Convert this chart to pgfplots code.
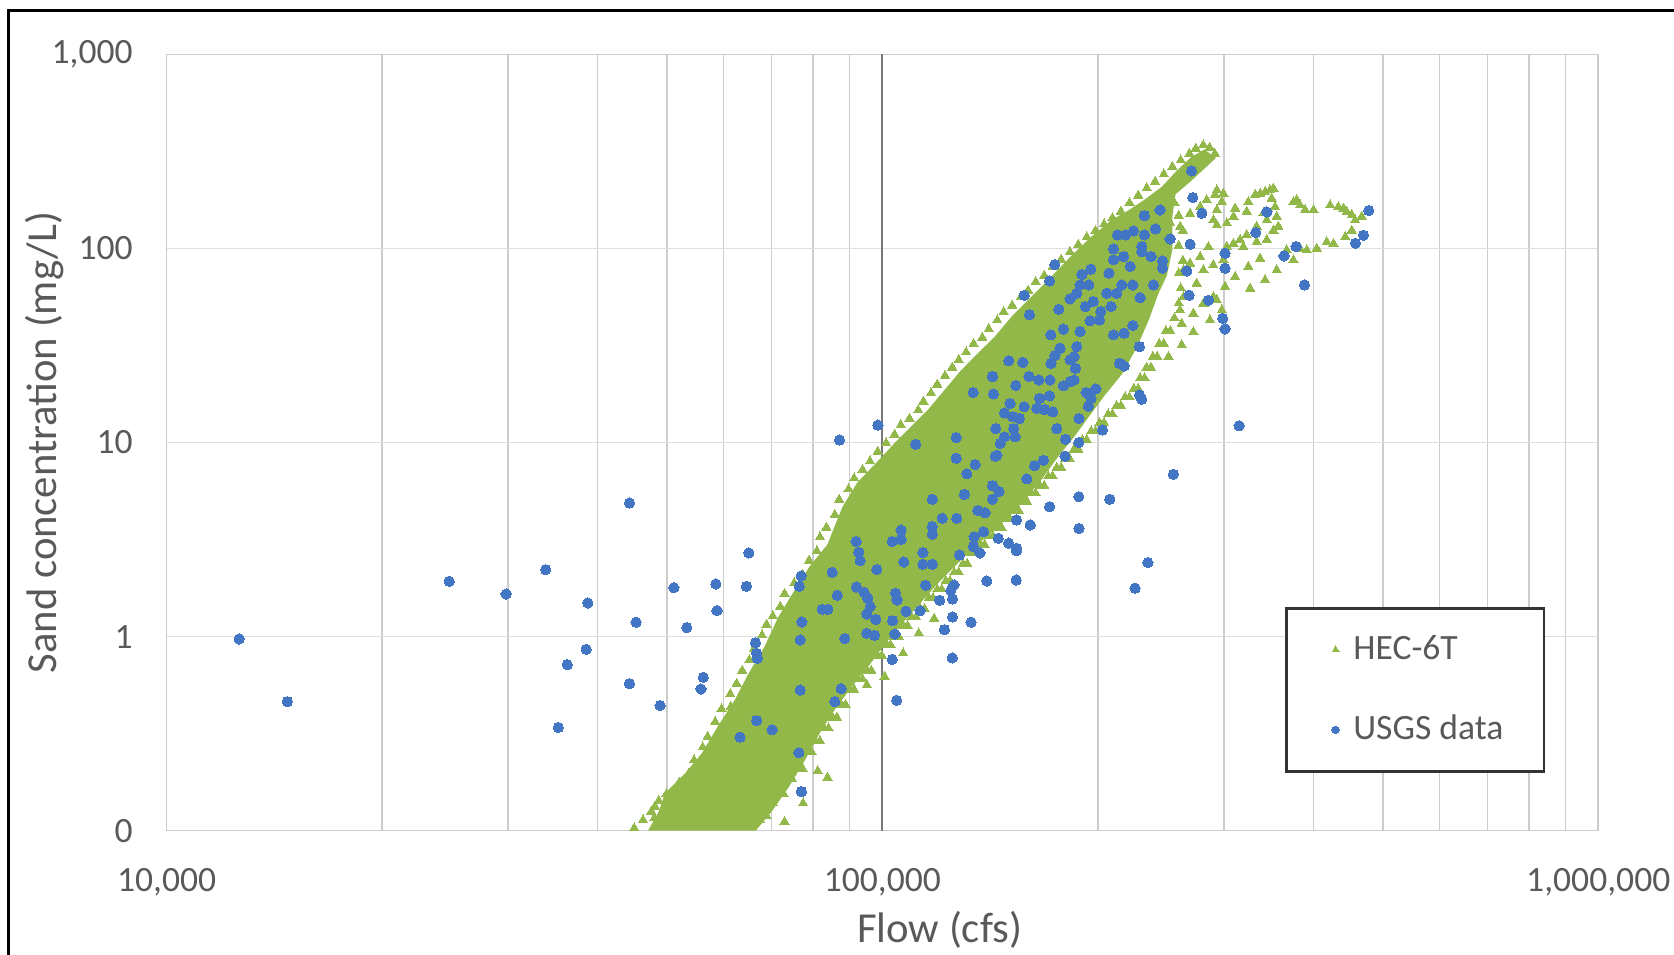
\documentclass[border=0pt]{standalone}
\usepackage{pgfplots}
\pgfplotsset{compat=1.18}
\usepackage{pgfplotstable}
\usepackage{fontspec}
\setmainfont{Carlito}
\definecolor{hecgreen}{RGB}{146,184,74}
\definecolor{usgsblue}{RGB}{66,117,196}
\definecolor{txtgray}{RGB}{89,89,89}
\definecolor{gridx}{RGB}{204,204,204}
\definecolor{gridy}{RGB}{222,222,222}
\definecolor{axisdark}{RGB}{120,120,120}

% dense core of the HEC-6T cloud (outline)
\pgfplotstableread{
x y
47070 0.1
48700 0.1256
49710 0.1558
52900 0.1957
55880 0.2489
58820 0.3418
62150 0.4691
64990 0.6437
68410 0.884
71540 1.26
75060 1.687
79040 2.286
83780 2.983
87910 4.647
92240 6.22
98500 8.01
104000 9.94
109500 12.02
115700 14.72
122200 18.72
128700 23.52
135900 28.8
143700 35.3
151300 44.3
161500 56.4
172300 71.7
183300 91.2
195700 114.6
209000 140.4
220700 157.3
232400 178.5
245600 207.9
258500 254.6
270200 296.4
281600 323.8
292400 292.7
269400 221.4
256700 190.2
254100 145.8
254100 98.4
249700 72.6
242900 58.5
235500 42.7
226800 31.1
216300 22.6
204700 17.6
194300 13.6
185900 10.86
175900 8.43
166500 6.38
158200 5.08
150300 4.15
141200 3.38
133200 2.8
125600 2.26
118900 1.843
112600 1.467
106500 1.168
100900 0.918
96140 0.722
90670 0.553
85530 0.4134
81520 0.3128
77960 0.2307
74040 0.1681
70070 0.1256
66560 0.1
}\heccore

\pgfplotstableread{
x y
45000 0.103
46300 0.1135
47550 0.1256
48700 0.1426
49900 0.154
50900 0.132
52000 0.177
53600 0.196
54550 0.231
56100 0.269
57000 0.305
58400 0.364
59600 0.424
61300 0.506
62570 0.574
63700 0.669
65200 0.759
66100 0.862
67900 1.016
68900 1.154
70300 1.277
72000 1.43
73000 1.664
75300 1.89
77400 2.09
79000 2.47
81000 2.76
81800 3.26
83500 3.65
85800 4.25
87000 5.08
89700 5.76
91300 6.54
93800 7.24
96100 8.01
98500 8.98
101200 9.94
104000 11.0
106100 12.33
109100 13.3
112200 14.7
114100 16.3
116900 18.0
119300 19.95
122300 22.1
125200 24.4
127800 26.7
130900 29.2
134100 32.3
137900 34.8
140800 38.5
144700 42.7
147700 47.2
151800 50.9
156100 56.4
159800 60.8
163700 67.3
168300 72.6
172900 80.4
177700 87.8
182800 95.9
187800 104.8
193000 114.6
198500 123.6
204000 133.4
209600 143.9
215400 155.3
221400 171.9
227700 187.8
234000 205
240400 221
247200 242
254100 264
261100 285
268400 308
274000 328
280700 341
286500 332
291400 308
67500 0.1135
68900 0.119
70300 0.139
72800 0.154
74800 0.184
77400 0.2085
83800 0.188
81200 0.203
79600 0.255
81800 0.29
84100 0.337
86400 0.383
88800 0.446
91300 0.532
93800 0.604
96500 0.669
99800 0.799
102600 0.907
105400 1.0
108400 1.138
111400 1.261
114500 1.394
117700 1.582
121000 1.752
124300 1.94
127800 2.145
131400 2.373
135000 2.695
138900 2.98
142700 3.30
146700 3.65
150800 4.04
155000 4.47
159300 4.95
163700 5.48
168300 5.99
172900 6.71
177700 7.43
182800 8.22
187800 9.21
193000 10.32
198500 11.43
204000 12.64
209600 14.0
215400 15.48
221400 17.13
227700 18.97
232400 21.5
237200 24.4
242100 27.7
247200 32.3
252400 37.6
255800 43.8
259300 52.2
261100 62.4
259300 74.5
262900 86.7
259300 103.5
262900 123.7
259300 147.6
255800 171.9
66560 0.1135
67940 0.119
69320 0.139
71780 0.154
73750 0.184
76320 0.2085
78490 0.255
80650 0.29
82920 0.337
85190 0.383
87560 0.446
90020 0.532
92490 0.604
95150 0.669
98400 0.799
101200 0.907
103900 1.0
106900 1.138
109800 1.261
112900 1.394
116100 1.582
119300 1.752
122600 1.94
126000 2.145
129600 2.373
133100 2.695
137000 2.98
140700 3.30
144600 3.65
148700 4.04
152800 4.47
157100 4.95
161400 5.48
165900 5.99
170500 6.71
175200 7.43
180200 8.22
185200 9.21
190300 10.32
195700 11.43
201100 12.64
206700 14.0
212400 15.48
218300 17.13
224500 18.97
229100 21.5
233900 24.4
238700 27.7
243700 32.3
248900 37.6
106900 0.82
112400 1.04
118100 1.24
100700 0.623
95100 0.564
77500 0.1385
73000 0.111
48100 0.133
48000 0.116
50100 0.133
56570 0.240
61400 0.435
252400 135
260500 129.6
269000 151.4
277900 164
283800 178
293200 200
291500 189
299500 192
298000 174
293200 158
290000 140
293200 132
302800 135
309300 146
311000 161
322800 155
324500 174
331700 189
337000 192
342500 196
347900 200
351800 204
349800 181
353600 164
355500 146
357400 130
351800 124
344300 140
340600 152
333300 130
322800 117.5
315900 111
309300 106
302800 102
333300 108
344300 111
375200 174
379200 178
383300 167
389500 158
400100 158
422100 167
433500 164
440600 161
445300 155
452600 149
457300 140
467300 146
391700 98.1
404400 100
417600 108
426700 106
443200 115
452600 124
383300 100
375200 87.2
355500 77.5
342400 68.8
337000 88.9
324500 80.6
311000 71.5
301100 63.6
290000 56.4
280800 52.1
271900 46.3
261900 41.1
251000 27.7
286800 42.8
298000 48.2
260500 48.2
263400 77.5
277900 90.6
285400 102
269000 83.8
271900 37.2
293200 54.3
326300 62.3
367100 98.1
319300 102
274800 66.1
280800 77.5
289900 82.2
299500 87.3
263400 56.4
261900 31.8
}\hecpts

\pgfplotstableread{
x y
12630 0.972
14750 0.462
24820 1.927
29810 1.658
33860 2.213
38770 1.49
38570 0.86
36290 0.717
35260 0.340
44320 4.88
45280 1.185
44320 0.572
48920 0.441
51130 1.787
53300 1.112
56200 0.617
55780 0.537
58520 1.866
58740 1.36
64580 1.816
65070 2.70
66480 0.93
66700 0.82
66900 0.773
66720 0.369
63280 0.303
76770 0.530
85810 0.462
87580 0.539
70130 0.331
76430 0.252
77090 0.159
104700 0.469
103200 0.763
125200 0.776
77020 2.053
76530 1.816
85080 2.145
86470 1.632
82390 1.382
83900 1.382
77180 1.19
76770 0.961
88610 0.976
92680 2.72
93090 2.46
98220 2.214
91990 1.80
94290 1.69
95410 1.575
96140 1.427
95110 1.308
97900 1.227
95110 1.04
97480 1.015
103300 1.208
104300 1.672
104850 1.544
104100 1.031
107900 1.35
112900 1.36
107100 2.424
113900 2.708
113900 2.358
117400 2.358
114900 1.838
125900 1.845
124600 1.725
125300 1.563
120200 1.538
125300 1.262
122100 1.086
133000 1.185
139900 1.934
153800 1.957
128100 2.634
136900 2.697
153900 2.773
87100 10.31
225400 1.775
234900 2.406
270300 251.2
271400 183.0
279400 152.0
244300 158.1
232300 147.8
240700 126.2
232300 117.5
213000 117.5
218600 117.5
224300 123.2
210300 99.5
230300 102.3
230300 96.4
237300 90.9
246200 86.3
246200 79.1
252300 112.0
269100 105.2
301100 94.5
301100 79.1
266200 76.6
268200 57.4
285400 54.1
298800 43.7
301100 38.5
344400 154.4
332400 120.8
378400 102.3
364000 91.6
388700 64.9
174100 82.6
171200 68.1
195500 78.2
190000 73.4
207200 74.6
210300 87.4
217200 90.9
221900 80.7
216000 64.9
223800 64.9
239200 64.9
229100 55.8
208700 50.2
205800 58.8
212500 58.8
157800 57.4
160500 45.6
176400 48.6
188900 64.9
194200 64.9
186900 58.8
182900 55.0
197100 53.3
192100 50.2
201900 47.3
201000 42.8
195100 42.4
179000 38.4
188900 37.3
171900 35.9
177100 30.6
174200 28.1
172000 25.6
182900 26.7
185300 27.7
186100 24.1
186900 31.2
210300 35.9
217600 36.6
223800 40.1
228600 31.2
214400 25.6
217600 24.8
150100 26.4
157100 25.9
153600 19.7
160300 21.9
165400 21.0
171500 21.0
179000 19.6
182900 20.6
185300 21.0
165800 16.9
171200 17.4
164300 15.0
168400 14.8
173000 14.4
142500 21.9
142900 17.8
133900 18.1
150800 15.9
157800 15.3
148100 14.2
152000 13.6
155400 13.3
144000 11.8
152500 11.8
153300 10.7
148100 10.7
146100 9.9
144500 8.6
143800 8.5
126800 10.6
126800 8.3
134800 7.7
131200 6.9
142500 6.0
145500 5.6
142500 5.1
130200 5.4
117400 5.1
121200 4.07
127000 4.07
135900 4.46
139100 4.35
138400 3.47
134300 3.27
134000 2.91
145200 3.21
150100 3.03
154000 2.85
154000 3.99
160900 3.76
159100 6.5
163100 7.6
167900 8.1
180000 8.5
180300 10.4
188100 10.0
175200 11.8
188200 13.3
192600 18.1
198700 18.9
195700 16.9
194000 15.4
203000 11.6
171200 4.67
188100 5.26
207800 5.1
188200 3.61
255000 6.86
315000 12.2
228600 17.6
230300 16.7
106200 3.54
103200 3.09
106200 3.17
117400 3.69
117400 3.37
91900 3.09
98540 12.3
111300 9.8
477900 156.9
469900 117.0
458000 106.4
}\usgs

\begin{document}
\begin{tikzpicture}
\begin{axis}[
  at={(0pt,0pt)}, anchor=south west,
  scale only axis, width=402.3pt, height=218.1pt,
  xmode=log, ymode=log,
  xmin=1e4, xmax=1e6, ymin=0.1, ymax=1000,
  xtick={1e4,1e5,1e6},
  xticklabels={{10,000},{100,000},{1,000,000}},
  minor xtick={2e4,3e4,4e4,5e4,6e4,7e4,8e4,9e4,2e5,3e5,4e5,5e5,6e5,7e5,8e5,9e5},
  ytick={0.1,1,10,100,1000},
  yticklabels={0,1,10,100,{1,000}},
  minor ytick={},
  major tick length=0pt, minor tick length=0pt,
  xmajorgrids=true, xminorgrids=true, ymajorgrids=true,
  major x grid style={draw=gridx, line width=0.45pt},
  minor x grid style={draw=gridx, line width=0.45pt},
  major y grid style={draw=gridy, line width=0.45pt},
  axis line style={draw=gridx, line width=0.45pt},
  tick label style={font=\fontsize{10}{12}\selectfont, text=txtgray},
  yticklabel style={anchor=east, xshift=-6pt},
  xticklabel style={anchor=north, yshift=-7pt},
  xlabel={Flow (cfs)},
  ylabel={Sand concentration (mg/L)},
  label style={font=\fontsize{12}{14}\selectfont, text=txtgray},
  xlabel style={at={(axis description cs:0.54,-0.128)}, anchor=center},
  ylabel style={at={(axis description cs:-0.085,0.5)}, anchor=center},
  legend cell align=left,
  legend style={at={(axis description cs:0.7815,0.2875)}, anchor=north west,
     draw=black!80, line width=0.6pt, fill=white,
     inner xsep=9.5pt, inner ysep=5.5pt, row sep=10.1pt,
     font=\fontsize{10}{12}\selectfont, text=txtgray},
]
\addplot[draw=axisdark, line width=0.6pt, forget plot] coordinates {(1e5,0.1) (1e5,1000)};
\addplot[fill=hecgreen, draw=none, forget plot] table[x=x,y=y] {\heccore};
\addplot[only marks, mark=triangle*, mark size=1.5pt, color=hecgreen,
   mark options={draw=hecgreen, fill=hecgreen, line width=0pt},
   legend image code/.code={\path[draw=none] (-4.3pt,0pt) -- (3pt,0pt);
     \path[draw=none,fill=hecgreen] plot[only marks, mark=triangle*, mark size=1.15pt,
       mark options={draw=hecgreen, fill=hecgreen, line width=0pt}] coordinates {(0pt,0pt)};}]
   table[x=x,y=y] {\hecpts};
\addlegendentry{HEC-6T}
\addplot[only marks, mark=*, mark size=1.45pt, color=usgsblue,
   mark options={draw=usgsblue, fill=usgsblue, line width=0pt},
   legend image code/.code={\path[draw=none] (-4.3pt,0pt) -- (3pt,0pt);
     \path[draw=none,fill=usgsblue] plot[only marks, mark=*, mark size=1.05pt,
       mark options={draw=usgsblue, fill=usgsblue, line width=0pt}] coordinates {(0pt,0pt)};}]
   table[x=x,y=y] {\usgs};
\addlegendentry{USGS data}
\end{axis}
\draw[black, line width=0.7pt] (-44.4pt,-40pt) -- (-44.4pt,230.4pt) -- (440pt,230.4pt);
\pgfresetboundingbox
\path[use as bounding box] (-46.8pt,-34.8pt) rectangle (423.6pt,233.4pt);
\end{tikzpicture}
\end{document}
